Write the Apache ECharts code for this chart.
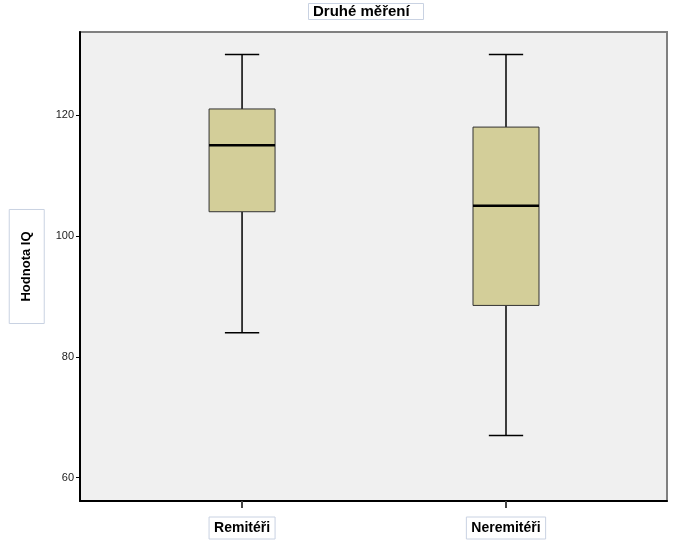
<!DOCTYPE html>
<html>
<head>
<meta charset="utf-8">
<script src="https://cdn.jsdelivr.net/npm/echarts@6/dist/echarts.min.js"></script>
<style>html,body{margin:0;padding:0;background:#fff}#c{width:685px;height:550px}</style>
</head>
<body>
<div id="c"></div>
<script>
var titleText = 'Druhé měření';
var yAxisTitle = 'Hodnota IQ';
var categories = ['Remitéři', 'Neremitéři'];
var positions = [1, 2];
var whiskerLow = [84, 67];
var q1Vals = [104, 88.5];
var medianVals = [115, 105];
var q3Vals = [121, 118];
var whiskerHigh = [130, 130];
var yTicks = [60, 80, 100, 120];

var data = categories.map(function (c, i) {
  return [positions[i], whiskerLow[i], q1Vals[i], medianVals[i], q3Vals[i], whiskerHigh[i]];
});

var chart = echarts.init(document.getElementById('c'), null, {renderer: 'canvas'});
var FONT = 'Liberation Sans, Arial, sans-serif';
chart.setOption({
  animation: false,
  backgroundColor: '#ffffff',
  title: {
    text: titleText,
    left: 308, top: 3,
    padding: [1, 14, 1, 5],
    borderColor: '#c9d2e2', borderWidth: 1,
    textStyle: {fontFamily: FONT, fontSize: 15, fontWeight: 'bold', color: '#000'}
  },
  grid: {
    left: 80, right: 18, top: 32, bottom: 49,
    containLabel: false, outerBoundsMode: 'none',
    show: true, backgroundColor: '#f0f0f0', borderColor: '#808080', borderWidth: 2
  },
  xAxis: {
    type: 'value', min: 0.386, max: 2.61,
    splitLine: {show: false},
    axisLine: {show: true, onZero: false, lineStyle: {color: '#000', width: 2}},
    axisTick: {show: true, customValues: positions, length: 7, lineStyle: {color: '#444', width: 2}},
    axisLabel: {
      customValues: positions, margin: 16,
      formatter: function (v) { var i = positions.indexOf(v); return i >= 0 ? categories[i] : ''; },
      fontFamily: FONT, fontSize: 14, fontWeight: 'bold', color: '#000',
      borderColor: '#c9d2e2', borderWidth: 1, padding: [4, 5, 4, 5]
    }
  },
  yAxis: {
    type: 'value', min: 56.15, max: 133.73,
    splitLine: {show: false},
    axisLine: {show: true, onZero: false, lineStyle: {color: '#000', width: 2}},
    axisTick: {show: true, customValues: yTicks, length: 4, lineStyle: {color: '#000', width: 1}},
    axisLabel: {customValues: yTicks, margin: 6, fontFamily: FONT, fontSize: 11, color: '#222'},
    name: yAxisTitle, nameLocation: 'middle', nameRotate: 90, nameGap: 32,
    nameTextStyle: {
      fontFamily: FONT, fontSize: 13, fontWeight: 'bold', color: '#000',
      borderColor: '#c9d2e2', borderWidth: 1, padding: [11, 22, 11, 22]
    }
  },
  series: [{
    type: 'custom',
    data: data,
    encode: {x: 0, y: [1, 2, 3, 4, 5]},
    renderItem: function (params, api) {
      var x = api.value(0);
      var pLow = api.coord([x, api.value(1)]);
      var pQ1 = api.coord([x, api.value(2)]);
      var pMed = api.coord([x, api.value(3)]);
      var pQ3 = api.coord([x, api.value(4)]);
      var pHigh = api.coord([x, api.value(5)]);
      var bw = api.size([0.25, 0])[0];
      var cw = api.size([0.13, 0])[0];
      var cx = pMed[0];
      var lineStyle = {stroke: '#000', lineWidth: 1.5};
      return {
        type: 'group',
        children: [
          {type: 'line', shape: {x1: cx, y1: pHigh[1], x2: cx, y2: pQ3[1]}, style: lineStyle},
          {type: 'line', shape: {x1: cx, y1: pQ1[1], x2: cx, y2: pLow[1]}, style: lineStyle},
          {type: 'line', shape: {x1: cx - cw / 2, y1: pHigh[1], x2: cx + cw / 2, y2: pHigh[1]}, style: lineStyle},
          {type: 'line', shape: {x1: cx - cw / 2, y1: pLow[1], x2: cx + cw / 2, y2: pLow[1]}, style: lineStyle},
          {type: 'rect', shape: {x: cx - bw / 2, y: pQ3[1], width: bw, height: pQ1[1] - pQ3[1]},
            style: {fill: '#d3ce99', stroke: '#333', lineWidth: 1}},
          {type: 'line', shape: {x1: cx - bw / 2, y1: pMed[1], x2: cx + bw / 2, y2: pMed[1]},
            style: {stroke: '#000', lineWidth: 2.5}}
        ]
      };
    }
  }]
});
</script>
</body>
</html>
